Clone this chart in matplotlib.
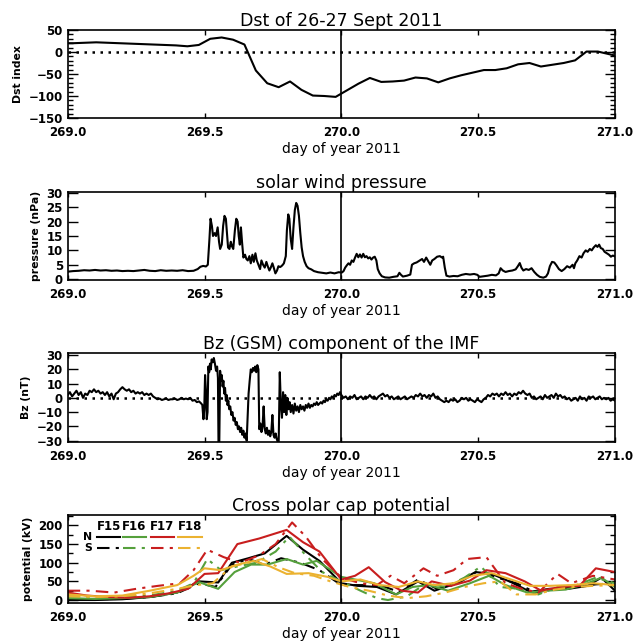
import numpy as np
import matplotlib
matplotlib.use("Agg")
import matplotlib.pyplot as plt
from matplotlib.ticker import MultipleLocator, FormatStrFormatter

# ---------------- data ----------------
# Dst hourly values, centred on half hours, hour index -1 .. 48 of day 269
dst_hours = np.arange(-1, 49)
dst_vals = [20, 20, 21, 22, 21, 20, 19, 18, 17, 16, 15, 13, 16, 30, 33, 28, 17,
            -42, -71, -80, -67, -86, -99, -100, -102, -87, -72, -59, -68, -67,
            -65, -58, -60, -69, -60, -53, -47, -41, -41, -37, -28, -25, -33,
            -29, -25, -19, 1, 1, -5, -11]
dst_t = 269 + (dst_hours + 0.5) / 24.0

# solar wind pressure (nPa)
p_t = [269.00, 269.02, 269.04, 269.06, 269.08, 269.10, 269.12, 269.14, 269.16, 269.18,
       269.20, 269.22, 269.24, 269.26, 269.28, 269.30, 269.32, 269.34, 269.36, 269.38,
       269.40, 269.42, 269.44, 269.46, 269.475, 269.485, 269.495, 269.505, 269.512, 269.518,
       269.522, 269.527, 269.531, 269.537, 269.542, 269.548, 269.553, 269.557, 269.563, 269.568,
       269.573, 269.578, 269.582, 269.586, 269.591, 269.596, 269.600, 269.605, 269.611, 269.616,
       269.621, 269.625, 269.629, 269.633, 269.637, 269.642, 269.648, 269.653, 269.658, 269.664,
       269.669, 269.675, 269.680, 269.686, 269.691, 269.697, 269.703, 269.708, 269.714, 269.720,
       269.726, 269.731, 269.737, 269.742, 269.748, 269.753, 269.759, 269.765, 269.770, 269.776,
       269.781, 269.786, 269.790, 269.797, 269.801, 269.806, 269.810, 269.815, 269.820, 269.825,
       269.830, 269.835, 269.840, 269.845, 269.850, 269.855, 269.860, 269.866, 269.873, 269.880,
       269.890, 269.900, 269.915, 269.930, 269.945, 269.960, 269.975, 269.990, 270.002, 270.008,
       270.014, 270.020, 270.026, 270.032, 270.038, 270.044, 270.050, 270.056, 270.062, 270.068,
       270.074, 270.080, 270.086, 270.092, 270.098, 270.104, 270.110, 270.116, 270.122, 270.128,
       270.133, 270.140, 270.148, 270.160, 270.175, 270.190, 270.205, 270.212, 270.218, 270.225,
       270.240, 270.252, 270.258, 270.266, 270.275, 270.287, 270.295, 270.302, 270.310, 270.318,
       270.325, 270.332, 270.340, 270.350, 270.360, 270.368, 270.372, 270.378, 270.384, 270.395,
       270.410, 270.425, 270.440, 270.455, 270.470, 270.485, 270.497, 270.505, 270.520, 270.535,
       270.550, 270.565, 270.575, 270.582, 270.590, 270.600, 270.612, 270.625, 270.637, 270.645,
       270.652, 270.658, 270.665, 270.675, 270.685, 270.695, 270.705, 270.715, 270.725, 270.738,
       270.748, 270.755, 270.762, 270.770, 270.778, 270.786, 270.795, 270.805, 270.815, 270.825,
       270.835, 270.845, 270.850, 270.855, 270.862, 270.870, 270.878, 270.885, 270.893, 270.900,
       270.908, 270.915, 270.922, 270.930, 270.936, 270.942, 270.948, 270.955, 270.962, 270.970,
       270.978, 270.985, 270.992, 271.000]
p_v = [2.6, 2.8, 2.9, 3.1, 3.0, 3.2, 3.0, 3.1, 2.9, 3.0,
       2.8, 2.9, 2.8, 3.0, 3.2, 2.9, 2.8, 3.1, 2.9, 3.0,
       2.9, 3.1, 2.8, 2.9, 3.5, 4.3, 4.6, 4.4, 5.0, 14.0,
       21.0, 18.5, 15.0, 16.0, 15.0, 18.0, 13.0, 10.5, 12.0, 18.5,
       22.0, 21.0, 16.0, 11.0, 10.5, 13.0, 11.5, 10.5, 17.0, 21.0,
       20.0, 15.0, 12.0, 18.0, 13.0, 7.5, 8.5, 7.0, 6.5, 8.0,
       5.5, 8.5, 6.0, 9.0, 6.5, 5.0, 3.5, 6.5, 5.0, 4.0,
       6.0, 4.5, 3.0, 4.0, 5.5, 4.0, 2.0, 3.0, 4.5, 4.2,
       4.5, 5.0, 5.5, 8.0, 17.0, 22.5, 21.0, 14.0, 10.5, 18.0,
       24.0, 26.5, 25.5, 22.0, 16.0, 11.0, 8.0, 6.0, 4.5, 3.8,
       3.4, 2.8, 2.4, 2.2, 2.0, 2.3, 2.0, 2.4, 2.3, 2.8,
       4.0, 4.8, 5.5, 5.0, 6.5, 6.0, 7.5, 8.8, 7.6, 8.6,
       7.5, 8.8, 7.6, 8.0, 7.2, 7.6, 6.8, 7.5, 7.8, 6.5,
       3.5, 2.0, 1.0, 0.6, 0.5, 0.8, 1.0, 2.2, 1.5, 0.9,
       1.2, 1.6, 5.0, 5.5, 5.8, 6.5, 7.0, 6.0, 7.5, 6.2,
       5.0, 6.5, 7.0, 7.8, 8.0, 7.5, 7.8, 4.0, 1.2, 0.9,
       1.1, 1.0, 1.5, 1.8, 1.6, 1.8, 1.5, 0.8, 1.0, 1.2,
       1.5, 1.3, 2.0, 3.8, 3.0, 2.5, 2.8, 3.0, 3.4, 4.5,
       5.6, 4.0, 3.0, 3.5, 3.2, 3.8, 2.5, 1.5, 0.8, 0.5,
       0.9, 2.0, 4.5, 6.0, 5.8, 4.8, 3.5, 2.8, 3.5, 4.5,
       4.0, 5.0, 3.8, 5.5, 6.5, 8.0, 7.5, 9.0, 10.0, 9.5,
       10.5, 10.0, 11.0, 11.8, 11.2, 12.0, 10.8, 10.5, 9.5, 9.0,
       8.5, 7.8, 8.2, 7.9]

# IMF Bz (nT)
bz_a_t = np.linspace(269.0, 269.488, 62)
bz_a_v = [2, 4, 1, 3, 5, 2, 4, 0, 3, 2, 5, 4, 6, 4, 5, 3, 4, 2, 4, 1,
          3, -1, 3, 4, 6, 7.5, 6, 5, 6, 4, 5, 3, 4, 3, 4, 2, 3, 2, 3, 1,
          0, -1, -0.5, -1.5, -1, -0.5, -1.5, -1, -1, -0.5, -1.5, -1, 0, -1, -0.5, -1,
          0, -2, -1.5, -3, -2.5, -4]
bz_b_t = [269.492, 269.496, 269.499, 269.502, 269.505, 269.508, 269.511, 269.514, 269.517, 269.520,
          269.523, 269.526, 269.530, 269.534, 269.538, 269.542, 269.546, 269.549, 269.551, 269.554,
          269.557, 269.560, 269.563, 269.566, 269.569, 269.572, 269.575, 269.578, 269.581, 269.584,
          269.587, 269.590, 269.594, 269.598, 269.602, 269.606, 269.610, 269.614, 269.618, 269.622,
          269.626, 269.630, 269.634, 269.638, 269.642, 269.646, 269.650, 269.654, 269.658, 269.661,
          269.665, 269.669, 269.673, 269.677, 269.681, 269.685, 269.689, 269.693, 269.697, 269.700,
          269.704, 269.708, 269.712, 269.716, 269.720, 269.724, 269.728, 269.732, 269.736, 269.740,
          269.744, 269.748, 269.752, 269.756, 269.760, 269.764, 269.768, 269.771, 269.775, 269.779,
          269.783, 269.787, 269.791, 269.795, 269.799, 269.803, 269.807, 269.811, 269.815, 269.820,
          269.825, 269.830, 269.835, 269.840, 269.845, 269.850, 269.855, 269.860, 269.865, 269.870,
          269.875, 269.880, 269.885, 269.890, 269.895, 269.900, 269.905, 269.910, 269.915, 269.920,
          269.925, 269.930, 269.935, 269.940, 269.945, 269.950, 269.955, 269.960, 269.965, 269.970,
          269.975, 269.980, 269.985, 269.990, 269.995]
bz_b_v = [-5, -15, -8, 16, 5, -15, -10, 22, 18, 24,
          20, 27, 25, 28, 24, 19, 22, 14, -31, -31,
          19, 12, 16, 8, 12, 3, 7, -2, 2, -5,
          -2, -8, -6, -12, -10, -16, -14, -19, -17, -22,
          -20, -24, -21, -26, -23, -28, -25, -30, -10, 3,
          12, 20, 18, 21, 19, 22, 18, 23, 20, -22,
          -18, -24, -20, -6, -22, -25, -21, -26, -23, -27,
          -24, -12, -26, -28, -25, -29, -31, -31, 18, -5,
          -14, 4, -10, 2, -12, 0, -8, -3, -10, -5,
          -11, -4, -9, -6, -10, -5, -8, -6, -9, -5,
          -7, -4, -7, -5, -6, -4, -5, -3, -5, -4,
          -3, -4, -2, -3, -1, -2, 0, -1, 1, 0,
          2, 1, 3, 2, 4]
bz_c_t = np.linspace(270.0, 271.0, 126)
bz_c_v = [2, 0, 1, -1, 1, 0, 2, -1, 0, 1, -1, 1, 0, 2, 0, 1, -1, 1, 2, 3,
          1, 2, 0, 1, -1, 0, 1, -1, 0, 1, -1, 0, 1, 0, 2, 1, 3, 1, 2, 0,
          2, 1, 3, 0, 1, -1, -2, -3, -2, -3, -1, -2, -1, -3, -2, 0, -1, 0, -2, -1,
          -2, -3, -1, -2, -3, -1, 0, 2, 1, 3, 2, 3, 1, 3, 2, 4, 2, 3, 1, 3,
          2, 4, 3, 5, 3, 2, 3, 0, 1, -1, 0, 1, -1, 2, 0, 1, 2, 0, 3, 1,
          2, 0, 1, -1, 0, -2, -1, 0, -2, 1, -1, 0, -2, 1, 0, 1, -1, 0, 1, -1,
          0, -1, 0, -2, -1, -2]

# cross polar cap potential (kV)
f15n_t = [269.00, 269.10, 269.20, 269.30, 269.40, 269.48, 269.55, 269.60, 269.66, 269.72, 269.80,
          269.86, 269.92, 270.00, 270.06, 270.13, 270.20, 270.28, 270.34, 270.41, 270.49, 270.55,
          270.62, 270.69, 270.76, 270.83, 270.90, 270.95, 271.00]
f15n_v = [0, 0, 2, 8, 20, 50, 47, 100, 112, 125, 172, 135, 105, 45, 38, 35, 15, 50, 25, 42,
          75, 70, 48, 22, 30, 30, 38, 60, 25]
f15s_t = [269.00, 269.10, 269.20, 269.30, 269.40, 269.48, 269.54, 269.60, 269.66, 269.72, 269.78,
          269.85, 269.92, 270.00, 270.07, 270.14, 270.21, 270.28, 270.35, 270.42, 270.50, 270.57,
          270.64, 270.71, 270.78, 270.86, 270.93, 271.00]
f15s_v = [2, 2, 3, 8, 18, 45, 35, 95, 110, 95, 112, 100, 80, 40, 40, 40, 22, 55, 30, 42,
          78, 60, 45, 20, 30, 35, 42, 45]
f16n_t = [269.00, 269.10, 269.20, 269.30, 269.40, 269.48, 269.55, 269.61, 269.67, 269.73, 269.80,
          269.86, 269.91, 270.00, 270.05, 270.12, 270.20, 270.26, 270.32, 270.39, 270.47, 270.54,
          270.60, 270.68, 270.75, 270.82, 270.90, 270.95, 271.00]
f16n_v = [5, 3, 5, 8, 20, 48, 30, 75, 95, 95, 110, 95, 105, 62, 55, 45, 15, 35, 40, 25,
          45, 65, 40, 20, 25, 28, 45, 60, 35]
f16s_t = [269.00, 269.10, 269.20, 269.30, 269.40, 269.46, 269.51, 269.56, 269.62, 269.69, 269.76,
          269.81, 269.87, 269.93, 270.00, 270.07, 270.13, 270.17, 270.24, 270.31, 270.38, 270.45,
          270.51, 270.58, 270.65, 270.72, 270.79, 270.86, 270.93, 271.00]
f16s_v = [10, 8, 8, 12, 25, 45, 110, 80, 90, 100, 130, 170, 120, 75, 50, 25, 5, 0, 10, 45,
          35, 60, 90, 35, 30, 15, 35, 40, 60, 45]
f17n_t = [269.00, 269.07, 269.15, 269.22, 269.30, 269.37, 269.44, 269.50, 269.55, 269.62, 269.70,
          269.80, 269.86, 269.92, 270.00, 270.05, 270.10, 270.16, 270.22, 270.28, 270.33, 270.40,
          270.47, 270.53, 270.60, 270.67, 270.73, 270.80, 270.87, 270.93, 271.00]
f17n_v = [20, 12, 8, 6, 10, 18, 30, 70, 72, 150, 165, 188, 155, 130, 55, 65, 88, 48, 25, 20,
          50, 38, 52, 80, 72, 50, 25, 35, 38, 85, 75]
f17s_t = [269.00, 269.08, 269.17, 269.25, 269.33, 269.41, 269.46, 269.51, 269.57, 269.63, 269.70,
          269.76, 269.82, 269.87, 269.93, 270.00, 270.07, 270.13, 270.18, 270.23, 270.30, 270.35,
          270.41, 270.46, 270.53, 270.60, 270.66, 270.72, 270.79, 270.84, 270.92, 271.00]
f17s_v = [25, 25, 20, 30, 38, 45, 80, 135, 115, 100, 120, 150, 208, 170, 110, 60, 45, 40, 65, 45,
          85, 65, 80, 110, 115, 45, 30, 20, 70, 45, 65, 55]
f18n_t = [269.00, 269.10, 269.20, 269.30, 269.40, 269.46, 269.50, 269.56, 269.62, 269.68, 269.74,
          269.80, 269.88, 269.95, 270.00, 270.07, 270.14, 270.21, 270.28, 270.34, 270.41, 270.48,
          270.55, 270.62, 270.69, 270.76, 270.84, 270.92, 271.00]
f18n_v = [15, 10, 12, 25, 40, 65, 85, 80, 95, 105, 90, 70, 72, 62, 50, 55, 40, 35, 50, 40,
          45, 65, 72, 55, 38, 38, 40, 45, 40]
f18s_t = [269.00, 269.10, 269.20, 269.30, 269.40, 269.47, 269.53, 269.60, 269.66, 269.71, 269.77,
          269.83, 269.90, 269.96, 270.03, 270.10, 270.17, 270.24, 270.31, 270.38, 270.45, 270.52,
          270.58, 270.64, 270.71, 270.78, 270.85, 270.92, 271.00]
f18s_v = [10, 8, 10, 18, 30, 40, 45, 90, 100, 110, 88, 72, 65, 50, 35, 25, 12, 5, 10, 20,
          35, 45, 50, 15, 15, 28, 35, 38, 40]

sat_names = ["F15", "F16", "F17", "F18"]
sat_colors = ["#000000", "#55a03c", "#c81e1e", "#ebb230"]
north = [(f15n_t, f15n_v), (f16n_t, f16n_v), (f17n_t, f17n_v), (f18n_t, f18n_v)]
south = [(f15s_t, f15s_v), (f16s_t, f16s_v), (f17s_t, f17s_v), (f18s_t, f18s_v)]

titles = ["Dst of 26-27 Sept 2011", "solar wind pressure",
          "Bz (GSM) component of the IMF", "Cross polar cap potential"]
ylabels = ["Dst index", "pressure (nPa)", "Bz (nT)", "potential (kV)"]
xlabel = "day of year 2011"
x_ticks = [269.0, 269.5, 270.0, 270.5, 271.0]

# ---------------- figure ----------------
W, H = 633, 643
fig = plt.figure(figsize=(W / 100, H / 100), dpi=100)
plt.rcParams['font.family'] = ['DejaVu Sans']

left_px, right_px = 67.7, 615
panels_px = [(30, 118), (192, 280), (353, 442), (515, 603)]
axes = []
for top, bot in panels_px:
    ax = fig.add_axes([left_px / W, 1 - bot / H, (right_px - left_px) / W, (bot - top) / H])
    axes.append(ax)

dashdot = (0, (6, 3, 1.5, 3))
lw = 1.5

def style(ax, title, ylabel, ymaj, ymin=None, ylim=None):
    ax.set_xlim(269.0, 271.0)
    if ylim is not None:
        ax.set_ylim(*ylim)
    ax.set_xticks(x_ticks)
    ax.xaxis.set_major_formatter(FormatStrFormatter('%.1f'))
    ax.yaxis.set_major_locator(MultipleLocator(ymaj))
    if ymin:
        ax.yaxis.set_minor_locator(MultipleLocator(ymin))
    ax.tick_params(axis='both', which='both', direction='in', top=True, right=True,
                   width=1.0, labelsize=8.5)
    ax.tick_params(axis='x', which='major', length=3.5, pad=6)
    ax.tick_params(axis='y', which='major', length=7, pad=3.5)
    ax.tick_params(axis='y', which='minor', length=3.5)
    for lab in ax.get_xticklabels() + ax.get_yticklabels():
        lab.set_fontweight('bold')
    for s in ax.spines.values():
        s.set_linewidth(1.2)
    ax.set_title(title, fontsize=12.5, pad=3)
    ax.set_xlabel(xlabel, fontsize=10, labelpad=2)
    ax.set_ylabel(ylabel, fontsize=7.8, fontweight='bold', labelpad=4)
    ax.axvline(270.0, color='black', lw=1.2)

# Panel 1: Dst
ax = axes[0]
ax.plot(dst_t, dst_vals, color='black', lw=lw)
ax.axhline(0, color='black', lw=1.8, linestyle=(0, (1.0, 2.2)))
style(ax, titles[0], ylabels[0], 50, 10, (-150, 50))

# Panel 2: pressure
ax = axes[1]
ax.plot(p_t, p_v, color='black', lw=lw)
style(ax, titles[1], ylabels[1], 5, None, (-0.3, 30.3))

# Panel 3: Bz
ax = axes[2]
ax.plot(np.concatenate([bz_a_t, bz_b_t, bz_c_t]),
        np.concatenate([bz_a_v, bz_b_v, bz_c_v]), color='black', lw=lw)
ax.axhline(0, color='black', lw=1.8, linestyle=(0, (1.0, 2.2)))
style(ax, titles[2], ylabels[2], 10, None, (-31, 31.5))

# Panel 4: CPCP
ax = axes[3]
for (tn, vn), (ts, vs), c in zip(north, south, sat_colors):
    ax.plot(tn, vn, color=c, lw=lw)
    ax.plot(ts, vs, color=c, lw=lw, linestyle=dashdot)
style(ax, titles[3], ylabels[3], 50, 25, (-8, 228))

# legend drawn inside panel 4 (axes fraction coordinates)
lx0 = [0.054, 0.101, 0.152, 0.201]
lx1 = [0.096, 0.143, 0.194, 0.246]
for name, c, a, b in zip(sat_names, sat_colors, lx0, lx1):
    ax.text((a + b) / 2, 0.865, name, transform=ax.transAxes, ha='center', va='center',
            fontsize=8.5, fontweight='bold')
    ax.plot([a, b], [0.75, 0.75], transform=ax.transAxes, color=c, lw=lw)
    ax.plot([a, b], [0.625, 0.625], transform=ax.transAxes, color=c, lw=lw, linestyle=dashdot)
ax.text(0.037, 0.755, "N", transform=ax.transAxes, ha='center', va='center',
        fontsize=7.8, fontweight='bold')
ax.text(0.037, 0.62, "S", transform=ax.transAxes, ha='center', va='center',
        fontsize=7.8, fontweight='bold')

fig.savefig("out.png", dpi=100)
